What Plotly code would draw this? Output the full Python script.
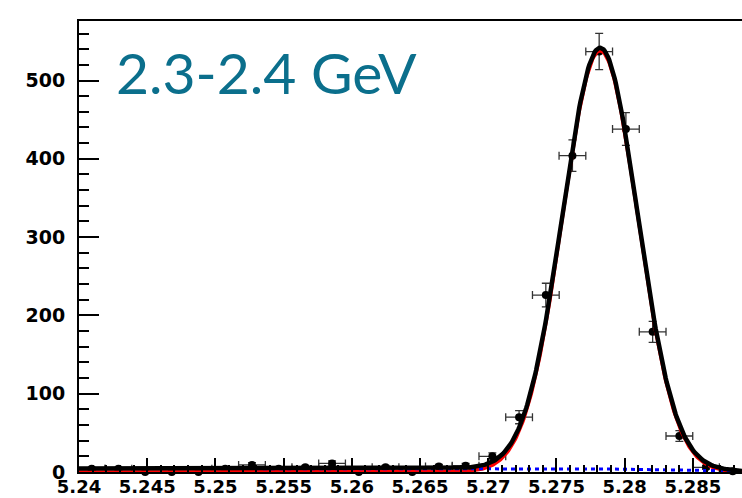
import numpy as np
import plotly.graph_objects as go

# Mbc histogram: bin centres (GeV) and entries
bin_centers = [5.24093, 5.24289, 5.24485, 5.24680, 5.24876, 5.25072, 5.25268,
               5.25464, 5.25659, 5.25855, 5.26051, 5.26247, 5.26443, 5.26638,
               5.26834, 5.27030, 5.27226, 5.27422, 5.27617, 5.27813, 5.28009,
               5.28205, 5.28401, 5.28596, 5.28792]
counts = [4, 4, 0, 0, 0, 4, 9, 4, 6, 11, 0, 6, 0, 7, 8, 20, 70, 226, 404,
          537, 438, 179, 46, 6, 1]
bin_half_width = 0.00098

x_tick_values = [5.24, 5.245, 5.25, 5.255, 5.26, 5.265, 5.27, 5.275, 5.28, 5.285]
x_tick_labels = ["5.24", "5.245", "5.25", "5.255", "5.26", "5.265", "5.27",
                 "5.275", "5.28", "5.285"]
y_tick_values = [0, 100, 200, 300, 400, 500]

# fit result: Gaussian signal on an ARGUS background
sig_amp = 538.0
sig_mean = 5.2782
sig_sigma = 0.00275
bg_scale = 72.3
argus_end = 5.289
argus_k = -41.7

x_lo, x_hi = 5.24, 5.2886
y_hi = 576

m = np.linspace(x_lo, x_hi, 600)
u = np.clip(1.0 - (m / argus_end) ** 2, 0.0, None)
background = bg_scale * np.sqrt(u) * np.exp(argus_k * u)
signal = sig_amp * np.exp(-0.5 * ((m - sig_mean) / sig_sigma) ** 2)
total = signal + background

y_err = [float(np.sqrt(c)) for c in counts]
x_err = [bin_half_width if c > 0 else 0.0 for c in counts]

fig = go.Figure()

fig.add_trace(go.Scatter(
    x=bin_centers, y=counts, mode="markers",
    marker=dict(color="black", size=8),
    error_y=dict(type="data", array=y_err, visible=True, color="#333333",
                 thickness=1.3, width=4),
    error_x=dict(type="data", array=x_err, visible=True, color="#333333",
                 thickness=1.3, width=4),
    cliponaxis=False, showlegend=False,
))
fig.add_trace(go.Scatter(
    x=m, y=signal, mode="lines", line=dict(color="#ff0000", width=3.5),
    cliponaxis=False, showlegend=False,
))
fig.add_trace(go.Scatter(
    x=m, y=background, mode="lines",
    line=dict(color="#0000ff", width=3, dash="4px,4px"),
    cliponaxis=False, showlegend=False,
))
fig.add_trace(go.Scatter(
    x=m, y=total, mode="lines", line=dict(color="black", width=4.5),
    cliponaxis=False, showlegend=False,
))

x_font = dict(family="DejaVu Sans", size=18, color="black", weight="bold")
y_font = dict(family="DejaVu Sans", size=19, color="black", weight="bold")

fig.update_xaxes(
    range=[x_lo, x_hi], automargin=False,
    showline=True, linecolor="black", linewidth=2,
    mirror=True, showgrid=False, zeroline=False,
    ticks="inside", ticklen=14, tickwidth=1.5, tickcolor="black",
    tickvals=x_tick_values, ticktext=x_tick_labels, tickfont=x_font,
    ticklabelstandoff=-3,
    minor=dict(ticks="inside", ticklen=7, tickwidth=1.5, tickcolor="black",
               dtick=0.001, tick0=5.24, showgrid=False),
)
fig.update_yaxes(
    range=[0, y_hi], automargin=False,
    showline=True, linecolor="black", linewidth=2,
    showgrid=False, zeroline=False,
    ticks="inside", ticklen=20, tickwidth=1.5, tickcolor="black",
    tickvals=y_tick_values, tickfont=y_font, ticklabelstandoff=8,
    minor=dict(ticks="inside", ticklen=10, tickwidth=1.5, tickcolor="black",
               dtick=20, tick0=0, showgrid=False),
)

fig.add_annotation(
    text="2.3-2.4 GeV", xref="paper", yref="paper",
    x=(114 - 79) / 663, y=0.8865, xanchor="left", yanchor="middle",
    showarrow=False, font=dict(family="Lato", size=57, color="#0b6f8c"),
)

fig.update_layout(
    width=742, height=498,
    margin=dict(l=79, r=0, t=21, b=26),
    paper_bgcolor="white", plot_bgcolor="white",
)

fig.write_html("out.html")
